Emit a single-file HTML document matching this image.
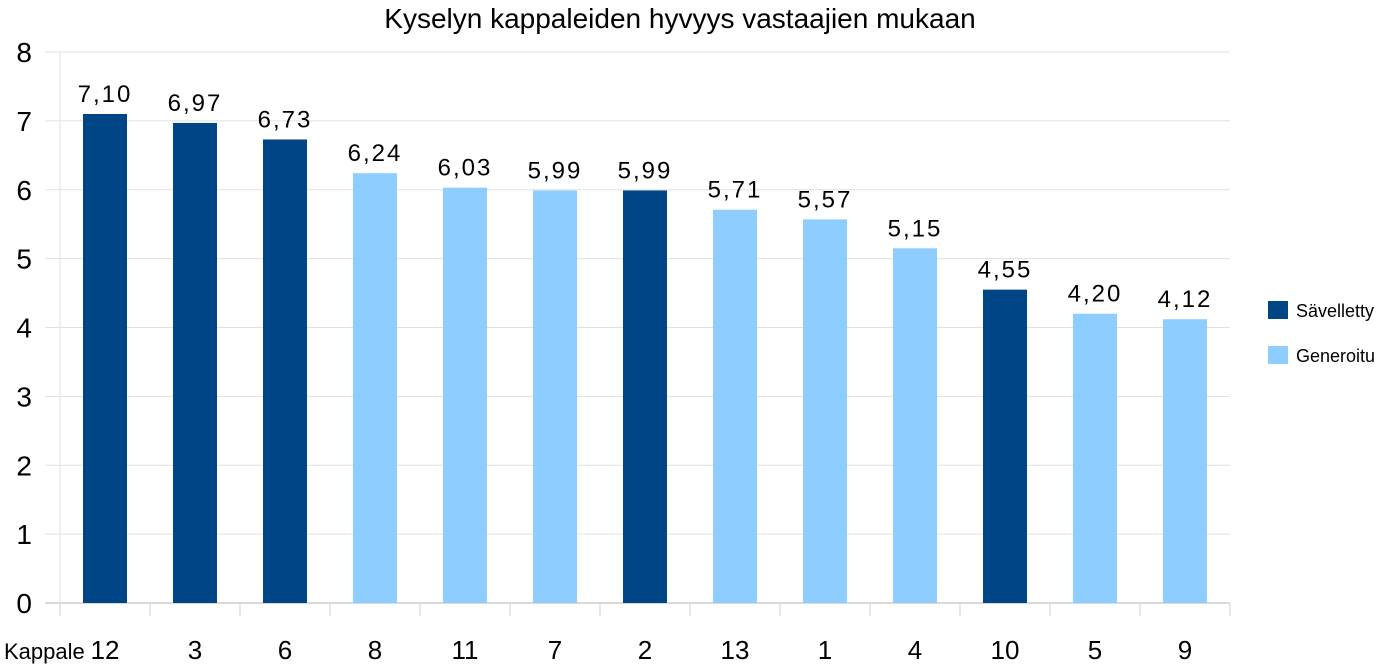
<!DOCTYPE html>
<html><head><meta charset="utf-8"><style>
body{margin:0;background:#fff;width:1386px;height:665px;overflow:hidden}
svg text{font-family:"Liberation Sans",sans-serif}
</style></head><body>
<svg id="c" width="1386" height="665">
<text x="680" y="28" font-size="28" text-anchor="middle" fill="#000">Kyselyn kappaleiden hyvyys vastaajien mukaan</text>
<g id="grid"></g><g id="bars"></g>
<text x="4" y="659" font-size="22" fill="#000">Kappale</text>
<g>
<rect x="1268" y="301" width="20" height="18" fill="#004586"/>
<text x="1296" y="317" font-size="18">Sävelletty</text>
<rect x="1268" y="346" width="20" height="18" fill="#8ecdff"/>
<text x="1296" y="362" font-size="18">Generoitu</text>
</g>
</svg>
<script>
const categories=["12","3","6","8","11","7","2","13","1","4","10","5","9"];
const values=[7.10,6.97,6.73,6.24,6.03,5.99,5.99,5.71,5.57,5.15,4.55,4.20,4.12];
const series=["S","S","S","G","G","G","S","G","G","G","S","G","G"];
const yTicks=[0,1,2,3,4,5,6,7,8];
const NS="http://www.w3.org/2000/svg";
const L=60,R=1230,Y0=603,Y8=52;
const y=v=>Y0-(Y0-Y8)*v/8;
const bw=(R-L)/categories.length;
const x=i=>L+bw*i;
const grid=document.getElementById('grid'),bars=document.getElementById('bars');
function mk(t,a,p){const e=document.createElementNS(NS,t);for(const k in a)e.setAttribute(k,a[k]);p.appendChild(e);return e;}
yTicks.forEach(t=>{
 const g=mk('line',{x1:45,x2:R,y1:y(t),y2:y(t),stroke:t===0?'#b3b3b3':'#e0e0e0','stroke-width':1},grid);
 
 
 const tx=mk('text',{x:32,y:y(t)+10,'font-size':28,'text-anchor':'end'},grid);tx.textContent=t;
 
 
});
mk('line',{x1:L,x2:L,y1:52,y2:Y0,stroke:'#e0e0e0'},grid);
for(let i=0;i<=categories.length;i++){
 const tk=mk('line',{x1:x(i),x2:x(i),y1:Y0,y2:Y0+13,stroke:'#d0d0d0'},grid);
 
 
}
categories.forEach((c,i)=>{
 const cx=x(i)+bw/2,v=values[i];
 const r=mk('rect',{x:cx-22,y:y(v),width:44,height:Y0-y(v),fill:series[i]==='S'?'#004586':'#8ecdff'},bars);
 
 
 const vl=mk('text',{x:cx,y:y(v)-12,'font-size':24,'text-anchor':'middle','letter-spacing':2},bars);
 vl.textContent=v.toFixed(2).replace('.',',');
 
 
 const cl=mk('text',{x:cx,y:659,'font-size':26,'text-anchor':'middle'},bars);
 cl.textContent=c;
 
 
});
</script>
</body></html>
